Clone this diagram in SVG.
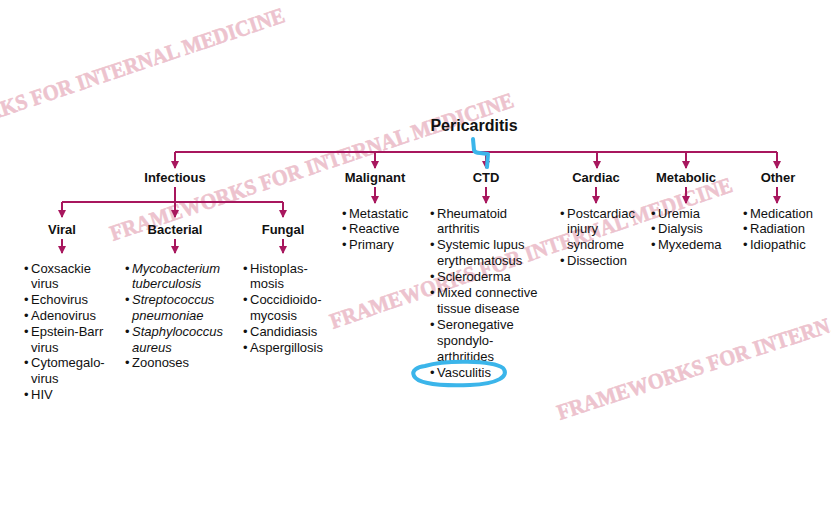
<svg xmlns="http://www.w3.org/2000/svg" width="831" height="527" viewBox="0 0 831 527">
<style>
.wm{font-family:"Liberation Serif","Times New Roman",serif;font-weight:bold;font-size:22px;fill:#edc3ce;stroke:#edc3ce;stroke-width:0.6}
.t{font-family:"Liberation Sans",Arial,sans-serif;font-size:13px;fill:#111}
.h{font-family:"Liberation Sans",Arial,sans-serif;font-size:13px;font-weight:bold;fill:#111;text-anchor:middle}
.it{font-style:italic}
.c{fill:none;stroke:#a8175e;stroke-width:2}
.a{fill:none;stroke:#a8175e;stroke-width:2;marker-end:url(#ah)}
.blue{fill:none;stroke:#3bb5ea;stroke-width:4;stroke-linecap:round;stroke-linejoin:round}
</style>
<defs>
<marker id="ah" viewBox="0 0 8 8" refX="7" refY="4" markerWidth="8" markerHeight="8" markerUnits="userSpaceOnUse" orient="auto">
<path d="M0,0 L8,4 L0,8 z" fill="#a8175e"/>
</marker>
</defs>
<rect width="831" height="527" fill="#fff"/>
<g id="watermarks">
<text class="wm" transform="translate(-116,156) rotate(-18.5)" textLength="424" lengthAdjust="spacingAndGlyphs">FRAMEWORKS FOR INTERNAL MEDICINE</text>
<text class="wm" transform="translate(113,241) rotate(-18.5)" textLength="424" lengthAdjust="spacingAndGlyphs">FRAMEWORKS FOR INTERNAL MEDICINE</text>
<text class="wm" transform="translate(333,329) rotate(-19)" textLength="424" lengthAdjust="spacingAndGlyphs">FRAMEWORKS FOR INTERNAL MEDICINE</text>
<text class="wm" transform="translate(560,420) rotate(-18)" textLength="424" lengthAdjust="spacingAndGlyphs">FRAMEWORKS FOR INTERNAL MEDICINE</text>
</g>
<g id="connectors">
<path class="c" d="M175,152 H777"/>
<path class="a" d="M175,152 V168"/>
<path class="a" d="M375,152 V168"/>
<path class="a" d="M486,152 V168"/>
<path class="a" d="M597,152 V168"/>
<path class="a" d="M686,152 V168"/>
<path class="a" d="M777,152 V168"/>
<path class="a" d="M175,187 V217"/>
<path class="c" d="M62,202 H283"/>
<path class="a" d="M62,202 V217"/>
<path class="a" d="M283,202 V217"/>
<path class="a" d="M62,239 V253"/>
<path class="a" d="M175,239 V253"/>
<path class="a" d="M283,239 V253"/>
<path class="a" d="M375,187 V203"/>
<path class="a" d="M486,187 V203"/>
<path class="a" d="M596,187 V203"/>
<path class="a" d="M686,187 V203"/>
<path class="a" d="M777,187 V203"/>
</g>
<g id="pericarditis"><text x="474" y="131" class="h" style="font-size:16px">Pericarditis</text></g>
<g id="infectious"><text x="175" y="181.5" class="h">Infectious</text></g>
<g id="malignant"><text x="375" y="181.5" class="h">Malignant</text>
<text class="t"><tspan x="342" y="217.5">•</tspan><tspan x="349" y="217.5">Metastatic</tspan><tspan x="342" y="233.4">•</tspan><tspan x="349" y="233.4">Reactive</tspan><tspan x="342" y="249.3">•</tspan><tspan x="349" y="249.3">Primary</tspan></text></g>
<g id="ctd"><text x="486" y="181.5" class="h">CTD</text>
<text class="t">
<tspan x="430" y="217.5">•</tspan><tspan x="437" y="217.5">Rheumatoid</tspan>
<tspan x="437" y="233.4">arthritis</tspan>
<tspan x="430" y="249.3">•</tspan><tspan x="437" y="249.3">Systemic lupus</tspan>
<tspan x="437" y="265.2">erythematosus</tspan>
<tspan x="430" y="281.1">•</tspan><tspan x="437" y="281.1">Scleroderma</tspan>
<tspan x="430" y="297">•</tspan><tspan x="437" y="297">Mixed connective</tspan>
<tspan x="437" y="312.9">tissue disease</tspan>
<tspan x="430" y="328.8">•</tspan><tspan x="437" y="328.8">Seronegative</tspan>
<tspan x="437" y="344.7">spondylo-</tspan>
<tspan x="437" y="360.6">arthritides</tspan>
<tspan x="430" y="376.5">•</tspan><tspan x="437" y="376.5">Vasculitis</tspan>
</text></g>
<g id="cardiac"><text x="596" y="181.5" class="h">Cardiac</text>
<text class="t"><tspan x="560" y="217.5">•</tspan><tspan x="567" y="217.5">Postcardiac</tspan><tspan x="567" y="233.4">injury</tspan><tspan x="567" y="249.3">syndrome</tspan><tspan x="560" y="265.2">•</tspan><tspan x="567" y="265.2">Dissection</tspan></text></g>
<g id="metabolic"><text x="686" y="181.5" class="h">Metabolic</text>
<text class="t"><tspan x="651" y="217.5">•</tspan><tspan x="658" y="217.5">Uremia</tspan><tspan x="651" y="233.4">•</tspan><tspan x="658" y="233.4">Dialysis</tspan><tspan x="651" y="249.3">•</tspan><tspan x="658" y="249.3">Myxedema</tspan></text></g>
<g id="other"><text x="778" y="181.5" class="h">Other</text>
<text class="t"><tspan x="743" y="217.5">•</tspan><tspan x="750" y="217.5">Medication</tspan><tspan x="743" y="233.4">•</tspan><tspan x="750" y="233.4">Radiation</tspan><tspan x="743" y="249.3">•</tspan><tspan x="750" y="249.3">Idiopathic</tspan></text></g>
<g id="viral"><text x="62" y="234" class="h">Viral</text>
<text class="t">
<tspan x="24" y="272.5">•</tspan><tspan x="31" y="272.5">Coxsackie</tspan>
<tspan x="31" y="288.3">virus</tspan>
<tspan x="24" y="304.1">•</tspan><tspan x="31" y="304.1">Echovirus</tspan>
<tspan x="24" y="319.9">•</tspan><tspan x="31" y="319.9">Adenovirus</tspan>
<tspan x="24" y="335.7">•</tspan><tspan x="31" y="335.7">Epstein-Barr</tspan>
<tspan x="31" y="351.5">virus</tspan>
<tspan x="24" y="367.3">•</tspan><tspan x="31" y="367.3">Cytomegalo-</tspan>
<tspan x="31" y="383.1">virus</tspan>
<tspan x="24" y="398.9">•</tspan><tspan x="31" y="398.9">HIV</tspan>
</text></g>
<g id="bacterial"><text x="175" y="234" class="h">Bacterial</text>
<text class="t">
<tspan x="125" y="272.5">•</tspan><tspan x="132" y="272.5" class="it">Mycobacterium</tspan>
<tspan x="132" y="288.3" class="it">tuberculosis</tspan>
<tspan x="125" y="304.1">•</tspan><tspan x="132" y="304.1" class="it">Streptococcus</tspan>
<tspan x="132" y="319.9" class="it">pneumoniae</tspan>
<tspan x="125" y="335.7">•</tspan><tspan x="132" y="335.7" class="it">Staphylococcus</tspan>
<tspan x="132" y="351.5" class="it">aureus</tspan>
<tspan x="125" y="367.3">•</tspan><tspan x="132" y="367.3">Zoonoses</tspan>
</text></g>
<g id="fungal"><text x="283" y="234" class="h">Fungal</text>
<text class="t">
<tspan x="243" y="272.5">•</tspan><tspan x="250" y="272.5">Histoplas-</tspan>
<tspan x="250" y="288.3">mosis</tspan>
<tspan x="243" y="304.1">•</tspan><tspan x="250" y="304.1">Coccidioido-</tspan>
<tspan x="250" y="319.9">mycosis</tspan>
<tspan x="243" y="335.7">•</tspan><tspan x="250" y="335.7">Candidiasis</tspan>
<tspan x="243" y="351.5">•</tspan><tspan x="250" y="351.5">Aspergillosis</tspan>
</text></g>
<g id="annotations">
<path class="blue" d="M473,139 L474,150 Q475,153 480,153 L488,154 L487,167"/>
<path class="blue" d="M425,366 C445,360 492,360 503,368 C510,376 498,384 470,385 C440,386 418,384 414,376 C411,370 418,367 425,366 Z"/>
</g>
</svg>
